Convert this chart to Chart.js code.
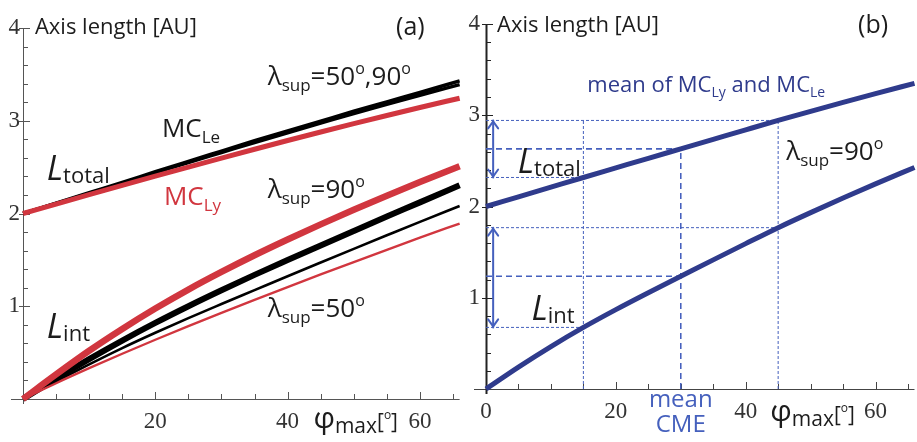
<!DOCTYPE html>
<html><head><meta charset="utf-8">
<script src="https://cdn.jsdelivr.net/npm/chart.js@4.4.1/dist/chart.umd.min.js"></script>
<style>
html,body{margin:0;padding:0;background:#fff;overflow:hidden}
#wrap{position:relative;width:917px;height:442px;background:#fff}
canvas{position:absolute;top:0}
#ca{left:0}
#cb{left:455px}
</style></head><body>
<div id="wrap"><canvas id="ca" width="462" height="442"></canvas><canvas id="cb" width="462" height="442"></canvas></div>
<script>
// ---------------- data ----------------
const phi = [0, 5, 10, 15, 20, 25, 30, 35, 40, 45, 50, 55, 60, 66];

// panel (a)
const leTotal90 = [2.00, 2.112, 2.224, 2.335, 2.45, 2.562, 2.673, 2.784, 2.89, 2.996, 3.102, 3.204, 3.305, 3.43];
const leTotal50 = [2.00, 2.108, 2.216, 2.325, 2.44, 2.548, 2.657, 2.766, 2.87, 2.974, 3.078, 3.176, 3.275, 3.39];
const lyTotal   = [2.00, 2.102, 2.203, 2.303, 2.402, 2.50, 2.597, 2.693, 2.787, 2.879, 2.969, 3.057, 3.143, 3.243];
const lyInt90   = [0, 0.265, 0.52, 0.755, 0.975, 1.18, 1.37, 1.55, 1.72, 1.883, 2.04, 2.192, 2.34, 2.51];
const leInt90   = [0, 0.22, 0.43, 0.63, 0.82, 1.00, 1.172, 1.338, 1.498, 1.656, 1.812, 1.967, 2.12, 2.305];
const leInt50   = [0, 0.19, 0.373, 0.549, 0.714, 0.872, 1.024, 1.174, 1.324, 1.472, 1.619, 1.765, 1.91, 2.08];
const lyInt50   = [0, 0.17, 0.332, 0.488, 0.639, 0.786, 0.929, 1.069, 1.207, 1.343, 1.477, 1.609, 1.739, 1.892];

// panel (b)
const meanTotal = [2.00, 2.106, 2.212, 2.318, 2.423, 2.528, 2.632, 2.736, 2.84, 2.943, 3.043, 3.141, 3.237, 3.35];
const meanInt   = [0, 0.24, 0.465, 0.675, 0.87, 1.055, 1.235, 1.415, 1.593, 1.768, 1.933, 2.093, 2.248, 2.428];
const refPhi    = [15, 30, 45];
const refTotal  = [2.318, 2.632, 2.943];
const refInt    = [0.675, 1.235, 1.768];

// ticks
const xTickValues = [0, 5, 10, 15, 20, 25, 30, 35, 40, 45, 50, 55, 60, 65];
const xTickLabelsA = ['', '', '', '', '20', '', '', '', '40', '', '', '', '60', ''];
const xTickLabelsB = ['0', '', '', '', '20', '', '', '', '40', '', '', '', '60', ''];
const xMajor = [20, 40, 60];
const yTickValues = [0, 1, 2, 3, 4];
const yTickLabels = ['', '1', '2', '3', '4'];
const yMinorTicks = [0.2,0.4,0.6,0.8,1.2,1.4,1.6,1.8,2.2,2.4,2.6,2.8,3.2,3.4,3.6,3.8];

// ---------------- styles ----------------
const SANS = '"Open Sans", "Noto Sans", sans-serif';
const SERIF = '"Liberation Serif", "DejaVu Serif", serif';
const RED = '#d1363f';
const BLACK = '#000000';
const NAVY = '#2f3b8c';
const BLUE = '#4560bd';
const TXT = '#1c1c1c';

function pts(xs, ys) { return xs.map((x, i) => ({x: x, y: ys[i]})); }

function curve(data, color, width, order) {
  return {data: data, borderColor: color, borderWidth: width, pointRadius: 0, fill: false,
          cubicInterpolationMode: 'monotone', borderJoinStyle: 'round', clip: 12, order: order};
}

function drawRich(ctx, x, y, segs, align) {
  let w = 0;
  segs.forEach(s => { ctx.font = (s[3] || '') + ' ' + s[1] + 'px ' + SANS; w += ctx.measureText(s[0]).width; });
  let cx = align === 'center' ? x - w / 2 : x;
  ctx.textBaseline = 'alphabetic';
  ctx.textAlign = 'left';
  segs.forEach(s => {
    ctx.font = (s[3] || '') + ' ' + s[1] + 'px ' + SANS;
    ctx.fillStyle = s[4] || TXT;
    ctx.fillText(s[0], cx, y + (s[2] || 0));
    cx += ctx.measureText(s[0]).width;
  });
}

const lam = (d) => {
  const out = [['λ', 26], ['sup', 17, 6], ['=', 26]];
  d.forEach((v, i) => { if (i) out.push([',', 26]); out.push([v, 26]); out.push(['o', 16, -11]); });
  return out;
};
const Lsym = (sub) => [['L', 34, 0, 'italic'], [sub, 22, 3]];
const phiLabel = [['φ', 30], ['max', 21, 5], ['[', 21, 1], ['o', 12, -9], [']', 21, 1]];

// annotation texts in data coordinates
const textsA = [
  {x: 1.8, y: 3.935, segs: [['Axis length [AU]', 22]]},
  {x: 56.4, y: 3.925, segs: [['(a)', 25]]},
  {x: 37.0, y: 3.385, segs: lam(['50', '90'])},
  {x: 21.0, y: 2.825, segs: [['MC', 26], ['Le', 17, 6]]},
  {x: 3.6, y: 2.36, segs: Lsym('total')},
  {x: 21.3, y: 2.092, segs: [['MC', 26, 0, '', RED], ['Ly', 17, 6, '', RED]]},
  {x: 37.0, y: 2.167, segs: lam(['90'])},
  {x: 3.6, y: 0.658, segs: Lsym('int')},
  {x: 37.0, y: 0.884, segs: lam(['50'])},
  {x: 43.9, y: -0.313, segs: phiLabel}
];
const textsB = [
  {x: 1.7, y: 3.912, segs: [['Axis length [AU]', 22]]},
  {x: 57.3, y: 3.90, segs: [['(b)', 25]]},
  {x: 15.6, y: 3.255, segs: [['mean of MC', 22, 0, '', NAVY], ['Ly', 14, 5, '', NAVY], [' and MC', 22, 0, '', NAVY], ['Le', 14, 5, '', NAVY]]},
  {x: 4.9, y: 2.367, segs: Lsym('total')},
  {x: 46.25, y: 2.51, segs: lam(['90'])},
  {x: 7.0, y: 0.756, segs: Lsym('int')},
  {x: 30.0, y: -0.197, segs: [['mean', 24, 0, '', BLUE]], align: 'center'},
  {x: 30.0, y: -0.471, segs: [['CME', 24, 0, '', BLUE]], align: 'center'},
  {x: 43.8, y: -0.351, segs: phiLabel}
];

function decor(opts) {
  return {
    id: 'decor',
    beforeDatasetsDraw(chart) {
      const ctx = chart.ctx, xs = chart.scales.x, ys = chart.scales.y;
      const {left, right, top, bottom} = chart.chartArea;
      ctx.save();
      ctx.strokeStyle = opts.xAxisColor; ctx.lineWidth = 1;
      ctx.beginPath(); ctx.moveTo(left - 12, bottom + 0.5); ctx.lineTo(right, bottom + 0.5); ctx.stroke();
      ctx.strokeStyle = opts.yAxisColor; ctx.lineWidth = opts.yAxisWidth;
      ctx.beginPath(); ctx.moveTo(left + 0.5, top); ctx.lineTo(left + 0.5, bottom + 5); ctx.stroke();
      ctx.strokeStyle = opts.xAxisColor; ctx.lineWidth = 1;
      xTickValues.forEach(v => {
        if (v === 0) return;
        const p = Math.round(xs.getPixelForValue(v)) + 0.5;
        const len = xMajor.includes(v) ? 7 : 5;
        ctx.beginPath(); ctx.moveTo(p, bottom); ctx.lineTo(p, bottom - len); ctx.stroke();
      });
      ctx.strokeStyle = opts.yAxisColor;
      yTickValues.forEach(v => {
        if (v === 0) return;
        const p = Math.round(ys.getPixelForValue(v)) + 0.5;
        ctx.beginPath(); ctx.moveTo(left - 4, p); ctx.lineTo(left + 7, p); ctx.stroke();
      });
      yMinorTicks.forEach(v => {
        const p = Math.round(ys.getPixelForValue(v)) + 0.5;
        ctx.beginPath(); ctx.moveTo(left, p); ctx.lineTo(left + 5, p); ctx.stroke();
      });
      ctx.restore();
    },
    afterDatasetsDraw(chart) {
      const ctx = chart.ctx, xs = chart.scales.x, ys = chart.scales.y;
      ctx.save();
      if (opts.arrows) {
        ctx.strokeStyle = BLUE; ctx.lineWidth = 2; ctx.lineCap = 'round';
        opts.arrows.forEach(a => {
          const x = xs.getPixelForValue(a.x), y1 = ys.getPixelForValue(a.y1), y2 = ys.getPixelForValue(a.y2);
          ctx.beginPath(); ctx.moveTo(x, y1); ctx.lineTo(x, y2); ctx.stroke();
          ctx.beginPath();
          ctx.moveTo(x - 5, y2 + 8); ctx.lineTo(x, y2 + 1); ctx.lineTo(x + 5, y2 + 8);
          ctx.moveTo(x - 5, y1 - 8); ctx.lineTo(x, y1 - 1); ctx.lineTo(x + 5, y1 - 8);
          ctx.stroke();
        });
      }
      opts.texts.forEach(t => {
        drawRich(ctx, xs.getPixelForValue(t.x), ys.getPixelForValue(t.y), t.segs, t.align);
      });
      ctx.restore();
    }
  };
}

function scalesFor(xLabels, yWidth, xHeight, yPad) {
  return {
    x: {type: 'linear', min: 0, max: 66,
        afterBuildTicks: s => { s.ticks = xTickValues.map(v => ({value: v})); },
        afterFit: s => { s.height = xHeight; },
        grid: {display: false, drawTicks: false}, border: {display: false},
        ticks: {autoSkip: false, maxRotation: 0, padding: 9, color: '#333',
                font: {family: SERIF, size: 23},
                callback: (v) => { const i = xTickValues.indexOf(v); return i >= 0 ? xLabels[i] : ''; }}},
    y: {type: 'linear', min: 0, max: 4,
        afterBuildTicks: s => { s.ticks = yTickValues.map(v => ({value: v})); },
        afterFit: s => { s.width = yWidth; },
        grid: {display: false, drawTicks: false}, border: {display: false},
        ticks: {autoSkip: false, padding: yPad, color: '#333',
                font: {family: SERIF, size: 23},
                callback: (v) => { const i = yTickValues.indexOf(v); return i >= 0 ? yTickLabels[i] : ''; }}}
  };
}

const common = {responsive: false, animation: false, devicePixelRatio: 1,
  plugins: {legend: {display: false}, tooltip: {enabled: false}}};

// ---------------- chart (a) ----------------
new Chart(document.getElementById('ca'), {
  type: 'line',
  data: {datasets: [
    curve(pts(phi, lyTotal), RED, 5, 0),
    curve(pts(phi, leTotal90), BLACK, 3.5, 1),
    curve(pts(phi, leTotal50), BLACK, 3.5, 1),
    curve(pts(phi, lyInt90), RED, 6.5, 0),
    curve(pts(phi, leInt90), BLACK, 6, 1),
    curve(pts(phi, leInt50), BLACK, 2.6, 1),
    curve(pts(phi, lyInt50), RED, 2.4, 0)
  ]},
  options: Object.assign({}, common, {
    layout: {padding: {top: 28, right: 0, left: 0, bottom: 0}},
    scales: scalesFor(xTickLabelsA, 23, 43, 3)
  }),
  plugins: [decor({xAxisColor: '#555', yAxisColor: '#555', yAxisWidth: 1, texts: textsA})]
});

// ---------------- chart (b) ----------------
const vTop = [Math.max(...refTotal), refTotal[1], refTotal[2]];
const refSets = [];
refPhi.forEach((p, i) => {
  const dotted = i !== 1;
  const st = {borderColor: BLUE, borderWidth: dotted ? 1 : 1.6, borderDash: dotted ? [3, 2] : [6, 4],
              pointRadius: 0, fill: false, order: 5, clip: 12};
  refSets.push(Object.assign({data: [{x: 0, y: refTotal[i]}, {x: p, y: refTotal[i]}]}, st));
  refSets.push(Object.assign({data: [{x: 0, y: refInt[i]}, {x: p, y: refInt[i]}]}, st));
  refSets.push(Object.assign({data: [{x: p, y: 0}, {x: p, y: vTop[i]}]}, st));
});

new Chart(document.getElementById('cb'), {
  type: 'line',
  data: {datasets: [
    curve(pts(phi, meanTotal), NAVY, 5, 0),
    curve(pts(phi, meanInt), NAVY, 5, 0)
  ].concat(refSets)},
  options: Object.assign({}, common, {
    layout: {padding: {top: 24, right: 0, left: 0, bottom: 0}},
    scales: scalesFor(xTickLabelsB, 31, 53, 6)
  }),
  plugins: [decor({xAxisColor: '#444', yAxisColor: '#222', yAxisWidth: 2, texts: textsB,
                   arrows: [{x: 1.1, y1: refTotal[0], y2: refTotal[2]}, {x: 1.1, y1: refInt[0], y2: refInt[2]}]})]
});
</script>
</body></html>
